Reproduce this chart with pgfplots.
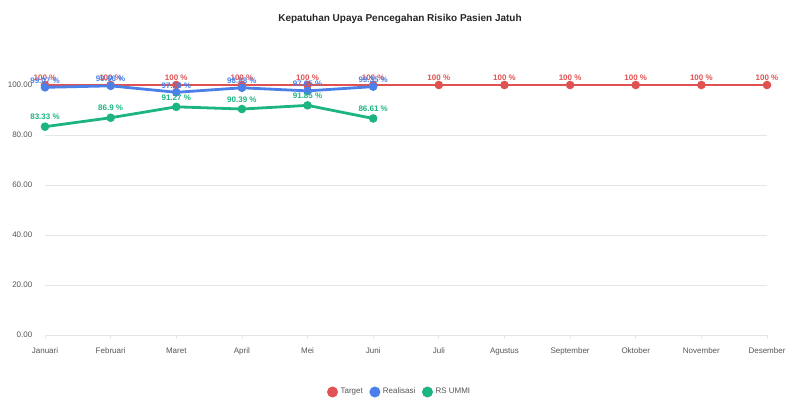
\documentclass[border=0pt]{standalone}
\usepackage{pgfplots}
\pgfplotsset{compat=1.18}
\usepackage{fontspec}
\setmainfont{Liberation Sans}
\definecolor{cred}{HTML}{E05252}
\definecolor{cblue}{HTML}{4A80E8}
\definecolor{cgreen}{HTML}{1DB57F}
\definecolor{cgrid}{HTML}{E6E6E6}
\definecolor{ctick}{HTML}{555555}
\begin{document}
\begin{tikzpicture}
\useasboundingbox (-33.75pt,-48.75pt) rectangle (566.25pt,251.25pt);
\begin{axis}[
  scale only axis, width=541.5pt, height=187.5pt,
  at={(0,0)}, anchor=south west,
  xmin=0, xmax=11, ymin=0, ymax=100,
  clip=false,
  axis y line*=left,
  y axis line style={draw=none},
  axis x line*=bottom,
  x axis line style={cgrid, line width=0.75pt, -},
  xtick={0,...,11},
  xticklabels={Januari,Februari,Maret,April,Mei,Juni,Juli,Agustus,September,Oktober,November,Desember},
  ytick={0,20,...,100},
  yticklabel={\pgfmathprintnumber[fixed,fixed zerofill,precision=2]{\tick}},
  /pgf/number format/assume math mode=true,
  tick label style={font=\fontsize{6}{7}\selectfont, text=ctick},
  x tick label style={yshift=-3pt},
  y tick label style={xshift=-3pt},
  ymajorgrids, grid style={cgrid, line width=0.5pt},
  major tick length=3pt,
  xtick style={cgrid, line width=0.5pt},
  ytick style={draw=none},
  tick align=outside,
  title={\bfseries Kepatuhan Upaya Pencegahan Risiko Pasien Jatuh},
  title style={at={(axis description cs:0.4917,1.232)}, anchor=center, font=\fontsize{7.5}{9}\selectfont, text=black!85},
  legend style={at={(axis description cs:0.4917,-0.228)}, anchor=center, draw=none, fill=none,
     legend columns=-1, font=\fontsize{6}{7}\selectfont, text=ctick,
     /tikz/every even column/.append style={column sep=3pt}},
  legend image code/.code={\fill[#1] (0.12cm,0) circle (3pt);},
  every axis plot/.append style={line width=2.1pt, mark=*, mark size=2.1pt,
     mark options={draw=white, line width=0.5pt}},
  point meta=explicit symbolic,
  nodes near coords={\pgfplotspointmeta~\%},
  nodes near coords style={font=\bfseries\fontsize{6}{7}\selectfont, anchor=south, yshift=0.5pt, inner sep=1.5pt},
]
\addplot[cred, mark options={fill=cred}, nodes near coords style={text=cred}] table[meta=l] {
x y l
0 100 100
1 100 100
2 100 100
3 100 100
4 100 100
5 100 100
6 100 100
7 100 100
8 100 100
9 100 100
10 100 100
11 100 100
};
\addlegendentry{Target}
\addplot[cblue, mark options={fill=cblue}, nodes near coords style={text=cblue}] table[meta=l] {
x y l
0 99.07 99.07
1 99.66 99.66
2 97.08 97.08
3 98.88 98.88
4 97.65 97.65
5 99.35 99.35
};
\addlegendentry{Realisasi}
\addplot[cgreen, mark options={fill=cgreen}, nodes near coords style={text=cgreen, yshift=2pt}] table[meta=l] {
x y l
0 83.33 83.33
1 86.9 86.9
2 91.27 91.27
3 90.39 90.39
4 91.85 91.85
5 86.61 86.61
};
\addlegendentry{RS UMMI}
\end{axis}
\end{tikzpicture}
\end{document}
